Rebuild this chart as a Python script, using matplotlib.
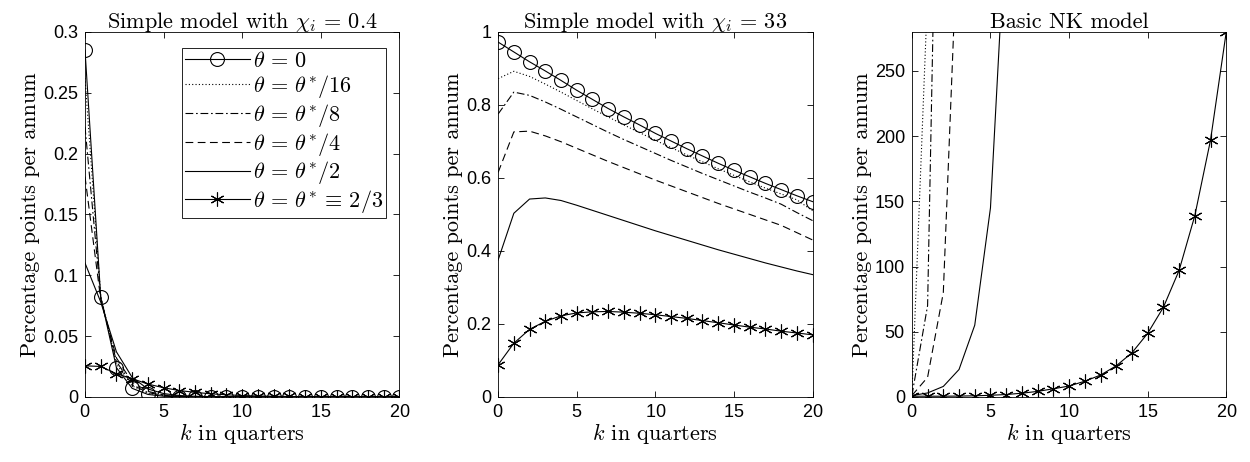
import matplotlib
matplotlib.use('Agg')
import matplotlib.pyplot as plt

plt.rcParams['font.family'] = 'Liberation Sans'
plt.rcParams['mathtext.fontset'] = 'cm'
plt.rcParams['axes.formatter.use_mathtext'] = True

k = list(range(21))

labels = [r'$\theta \,=\, 0$', r'$\theta \,=\, \theta^{*}/16$', r'$\theta \,=\, \theta^{*}/8$',
          r'$\theta \,=\, \theta^{*}/4$', r'$\theta \,=\, \theta^{*}/2$',
          r'$\theta \,=\, \theta^{*} \,\equiv\, 2/3$']

# panel 1: simple model, chi_i = 0.4
p1_th0 = [0.285, 0.082, 0.024, 0.007, 0.002, 0.0005, 0.0001] + [0.0] * 14
p1_th16 = [0.262, 0.083, 0.027, 0.009, 0.003, 0.001, 0.0003] + [0.0] * 14
p1_th8 = [0.222, 0.082, 0.029, 0.010, 0.0035, 0.0012, 0.0004] + [0.0] * 14
p1_th4 = [0.181, 0.080, 0.032, 0.012, 0.0045, 0.0016, 0.0006, 0.0002] + [0.0] * 13
p1_th2 = [0.110, 0.078, 0.037, 0.016, 0.0065, 0.0027, 0.0011, 0.0005, 0.0002] + [0.0] * 12
p1_th1 = [0.0255, 0.025, 0.019, 0.015, 0.0105, 0.0075, 0.0052, 0.0037, 0.0025,
          0.0017, 0.0011, 0.0007, 0.0005, 0.0003, 0.0002, 0.0001, 0.0, 0.0, 0.0, 0.0, 0.0]

# panel 2: simple model, chi_i = 33
p2_th0 = [0.972, 0.945, 0.918, 0.893, 0.867, 0.840, 0.815, 0.790, 0.767, 0.745, 0.722,
          0.701, 0.680, 0.660, 0.640, 0.621, 0.603, 0.585, 0.568, 0.551, 0.535]
p2_th16 = [0.872, 0.892, 0.878, 0.857, 0.835, 0.812, 0.789, 0.767, 0.745, 0.724, 0.703,
           0.683, 0.663, 0.644, 0.625, 0.607, 0.589, 0.572, 0.556, 0.540, 0.510]
p2_th8 = [0.775, 0.835, 0.826, 0.808, 0.788, 0.767, 0.746, 0.725, 0.705, 0.686, 0.667,
          0.648, 0.630, 0.612, 0.595, 0.578, 0.561, 0.545, 0.528, 0.505, 0.483]
p2_th4 = [0.615, 0.726, 0.728, 0.715, 0.699, 0.681, 0.663, 0.645, 0.628, 0.611, 0.594,
          0.578, 0.562, 0.546, 0.530, 0.515, 0.500, 0.485, 0.470, 0.450, 0.430]
p2_th2 = [0.375, 0.503, 0.542, 0.545, 0.538, 0.525, 0.511, 0.497, 0.483, 0.469, 0.455,
          0.442, 0.429, 0.416, 0.403, 0.391, 0.379, 0.367, 0.356, 0.345, 0.335]
p2_th1 = [0.088, 0.147, 0.185, 0.207, 0.222, 0.230, 0.233, 0.234, 0.232, 0.229, 0.225,
          0.220, 0.215, 0.209, 0.203, 0.197, 0.191, 0.186, 0.180, 0.175, 0.170]

# panel 3: basic NK model (lines leave the axes quickly)
p3_th16 = [1.0, 310.0]
p3_th8 = [1.0, 70.0, 690.0]
p3_th4 = [1.0, 15.0, 80.0, 385.0]
p3_th2 = [1.0, 3.0, 8.0, 21.0, 55.0, 145.0, 370.0]
p3_th1 = [0.5, 0.5, 0.5, 0.6, 0.8, 1.2, 1.8, 2.8, 4.2, 6.2, 8.3, 12.0, 16.7, 23.8,
          33.8, 48.7, 68.7, 97.0, 139.0, 197.0, 280.0]

yticks1 = [0, 0.05, 0.1, 0.15, 0.2, 0.25, 0.3]
yticks2 = [0, 0.2, 0.4, 0.6, 0.8, 1]
yticks3 = [0, 50, 100, 150, 200, 250]

lw = 0.8
styles = [dict(ls='-', marker='o', ms=10, mfc='none', mec='k', mew=0.8),
          dict(ls=(0, (1, 2))),
          dict(ls=(0, (7, 2.5, 1.5, 2.5))),
          dict(ls=(0, (7, 4))),
          dict(ls='-'),
          dict(ls='-', marker=(6, 2, 0), ms=10, mec='k', mew=0.8)]

fig = plt.figure(figsize=(12.5, 4.62), dpi=100)
lefts = [0.068, 0.3985, 0.7295]
axes = [fig.add_axes([l, 0.141, 0.2515, 0.790]) for l in lefts]

serif = 'cmr10'
titles = [r'Simple model with $\chi_i \,=\, 0.4$', r'Simple model with $\chi_i \,=\, 33$',
          'Basic NK model']

panels = [
    [p1_th0, p1_th16, p1_th8, p1_th4, p1_th2, p1_th1],
    [p2_th0, p2_th16, p2_th8, p2_th4, p2_th2, p2_th1],
    [None, p3_th16, p3_th8, p3_th4, p3_th2, p3_th1],
]
ylims = [(0, 0.3), (0, 1), (0, 280)]
ytick_sets = [yticks1, yticks2, yticks3]

for ax, series, title, ylim, yt in zip(axes, panels, titles, ylims, ytick_sets):
    for s, st, lab in zip(series, styles, labels):
        if s is None:
            continue
        ax.plot(k[:len(s)], s, color='k', lw=lw, label=lab, **st)
    ax.set_xlim(0, 20)
    ax.set_ylim(*ylim)
    ax.set_xticks([0, 5, 10, 15, 20])
    ax.set_yticks(yt)
    ax.set_yticklabels(['%g' % v for v in yt])
    ax.tick_params(direction='in', top=True, right=True, length=4, width=0.6,
                   labelsize=13, pad=5)
    for sp in ax.spines.values():
        sp.set_linewidth(0.6)
    ax.set_title(title, fontfamily=serif, fontsize=16, pad=3)
    ax.set_xlabel(r'$k$ in quarters', fontfamily=serif, fontsize=16, labelpad=0)
    ax.set_ylabel('Percentage points per annum', fontfamily=serif, fontsize=16, labelpad=2)

leg = axes[0].legend(loc='upper right', bbox_to_anchor=(0.959, 0.956),
                     prop={'family': serif, 'size': 16}, frameon=True, fancybox=False,
                     edgecolor='k', framealpha=1, handlelength=2.9, handletextpad=0.15,
                     borderpad=0.15, labelspacing=0.08, borderaxespad=0)
leg.get_frame().set_linewidth(0.6)

fig.savefig('out.png', dpi=100)
